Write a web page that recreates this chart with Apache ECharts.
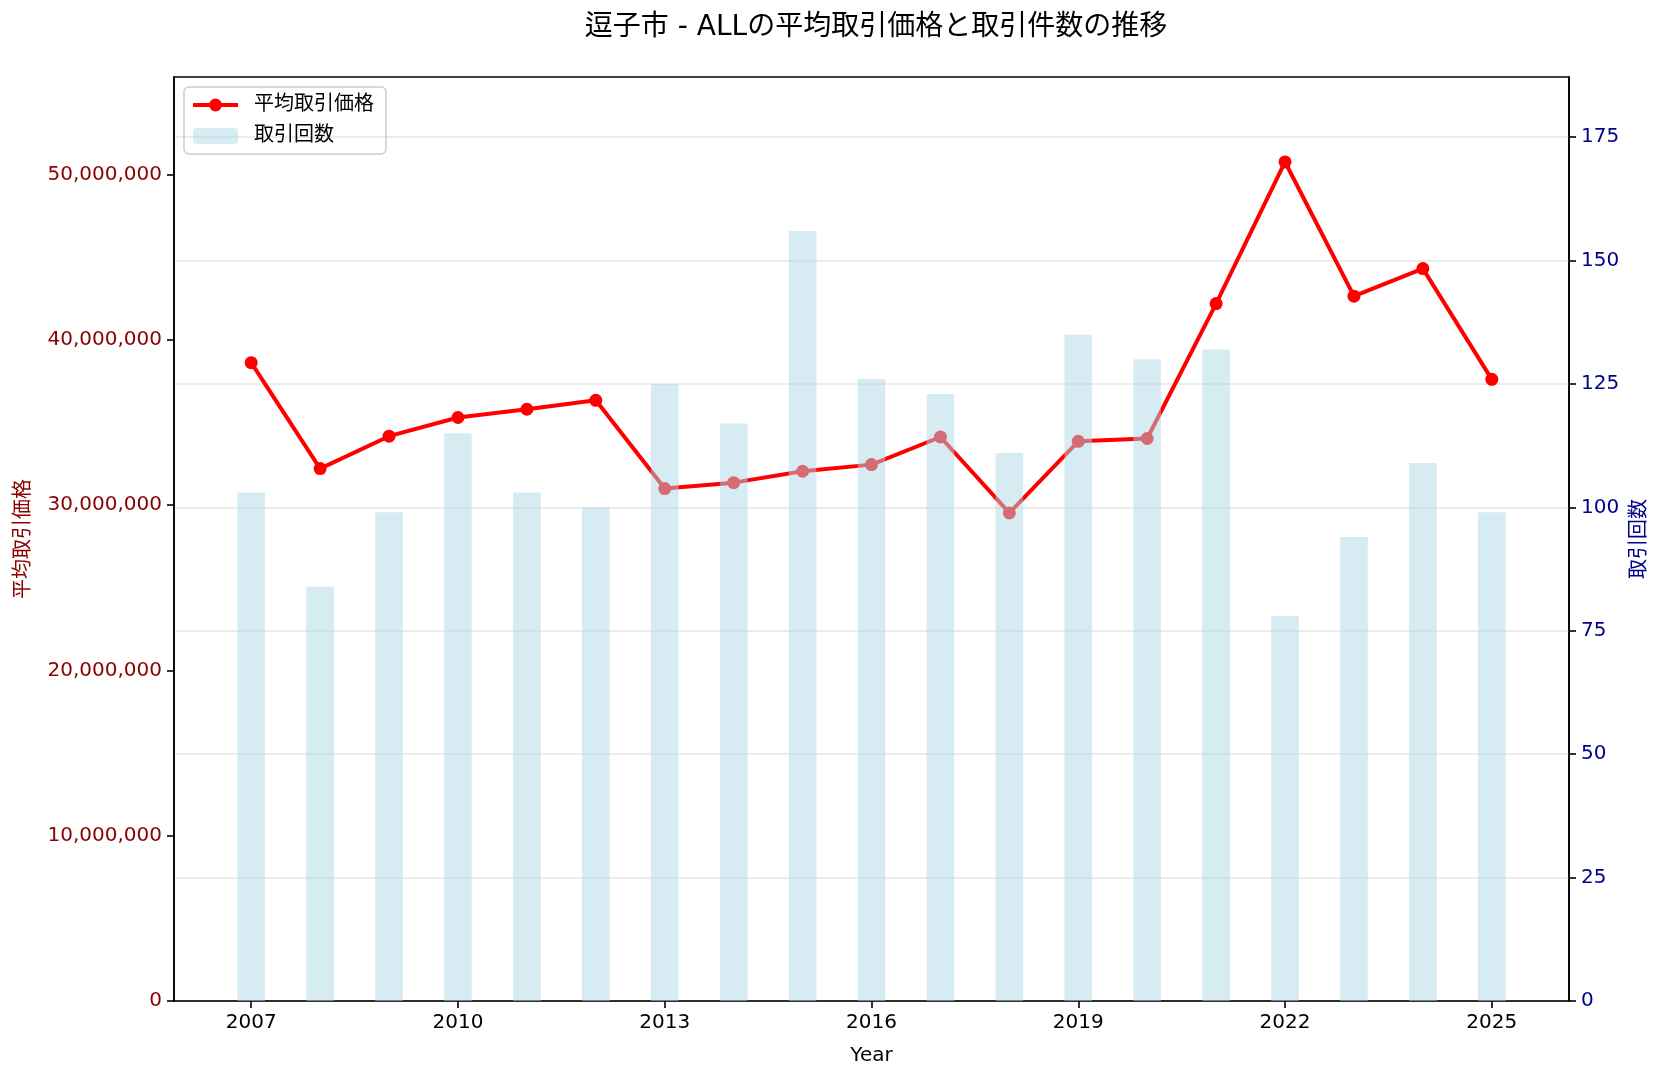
<!DOCTYPE html>
<html lang="ja">
<head>
<meta charset="UTF-8">
<title>逗子市 - ALLの平均取引価格と取引件数の推移</title>
<script src="https://cdn.jsdelivr.net/npm/echarts@6/dist/echarts.min.js"></script>
<style>
  html, body { margin: 0; padding: 0; background: #fff; }
  #chart { width: 1666px; height: 1079px; }
</style>
</head>
<body>
<div id="chart"></div>
<script>
// データ
const years = [2007, 2008, 2009, 2010, 2011, 2012, 2013, 2014, 2015, 2016,
               2017, 2018, 2019, 2020, 2021, 2022, 2023, 2024, 2025];
const avgPrice = [38620000, 32210000, 34170000, 35300000, 35800000, 36340000,
                  31000000, 31360000, 32050000, 32450000, 34120000, 29530000,
                  33860000, 34030000, 42190000, 50760000, 42640000, 44310000, 37610000];
const tradeCount = [103, 84, 99, 115, 103, 100, 125, 117, 156, 126,
                    123, 111, 135, 130, 132, 78, 94, 109, 99];
const xTicks = [2007, 2010, 2013, 2016, 2019, 2022, 2025];
const priceTicks = [0, 10000000, 20000000, 30000000, 40000000, 50000000];
const countTicks = [0, 25, 50, 75, 100, 125, 150, 175];

const font = '"DejaVu Sans", "Noto Sans CJK JP"';
const chart = echarts.init(document.getElementById('chart'));

chart.setOption({
  backgroundColor: '#fff',
  animation: false,
  textStyle: { fontFamily: font },
  title: {
    text: '逗子市 - ALLの平均取引価格と取引件数の推移',
    left: 871, top: 9, textAlign: 'center',
    textStyle: { fontFamily: font, fontSize: 28, fontWeight: 'normal', color: '#000' }
  },
  legend: {
    orient: 'vertical',
    left: 184, top: 87,
    padding: [8, 12, 8, 7],
    itemGap: 11,
    itemWidth: 45, itemHeight: 16,
    borderColor: '#cccccc', borderWidth: 1.5, borderRadius: 5,
    textStyle: { fontFamily: font, fontSize: 20, color: '#000', padding: [0, 0, 0, 11] },
    data: [
      { name: '平均取引価格', lineStyle: { width: 4, color: '#ff0000' }, itemStyle: { color: '#ff0000' } },
      { name: '取引回数', itemStyle: { color: '#add8e6', opacity: 0.5 } }
    ]
  },
  grid: {
    left: 174, right: 97, top: 77, bottom: 78,
    show: true, borderColor: '#000', borderWidth: 1.6, containLabel: false
  },
  xAxis: {
    type: 'value',
    min: 2005.88, max: 2026.12,
    name: 'Year', nameLocation: 'middle', nameGap: 45,
    nameTextStyle: { fontFamily: font, fontSize: 20, color: '#000' },
    axisLine: { show: true, lineStyle: { color: '#000', width: 1.6 } },
    axisTick: { show: true, customValues: xTicks, length: 7, lineStyle: { color: '#000', width: 1.6 } },
    axisLabel: {
      customValues: xTicks, fontSize: 20, color: '#000', margin: 12, fontFamily: font,
      formatter: v => String(Math.round(v))
    },
    splitLine: { show: false }
  },
  yAxis: [
    {
      type: 'value', position: 'left',
      min: 0, max: 55900000,
      name: '平均取引価格', nameLocation: 'middle', nameGap: 140, nameRotate: 90,
      nameTextStyle: { fontFamily: font, fontSize: 20, color: '#8b0000' },
      axisLine: { show: true, lineStyle: { color: '#000', width: 1.6 } },
      axisTick: { show: true, customValues: priceTicks, length: 7, lineStyle: { color: '#000', width: 1.6 } },
      axisLabel: {
        customValues: priceTicks, fontSize: 20, color: '#8b0000', margin: 12, fontFamily: font,
        formatter: v => Math.round(v).toLocaleString('en-US')
      },
      splitLine: { show: false }
    },
    {
      type: 'value', position: 'right',
      min: 0, max: 187.2,
      name: '取引回数', nameLocation: 'middle', nameGap: 58, nameRotate: 90,
      nameTextStyle: { fontFamily: font, fontSize: 20, color: '#00008b' },
      axisLine: { show: true, lineStyle: { color: '#000', width: 1.6 } },
      axisTick: { show: true, customValues: countTicks, length: 7, lineStyle: { color: '#000', width: 1.6 } },
      axisLabel: { customValues: countTicks, fontSize: 20, color: '#00008b', margin: 12, fontFamily: font },
      splitLine: { show: true, lineStyle: { color: '#e6e6e6', width: 1.7 } }
    }
  ],
  series: [
    {
      name: '平均取引価格',
      type: 'line',
      xAxisIndex: 0, yAxisIndex: 0,
      z: 2,
      data: years.map((y, i) => [y, avgPrice[i]]),
      symbol: 'circle', symbolSize: 13,
      lineStyle: { color: '#ff0000', width: 4 },
      itemStyle: { color: '#ff0000' }
    },
    {
      name: '取引回数',
      type: 'bar',
      xAxisIndex: 0, yAxisIndex: 1,
      z: 3,
      barWidth: 27.6,
      data: years.map((y, i) => [y, tradeCount[i]]),
      itemStyle: { color: '#add8e6', opacity: 0.5 }
    }
  ]
});
</script>
</body>
</html>
